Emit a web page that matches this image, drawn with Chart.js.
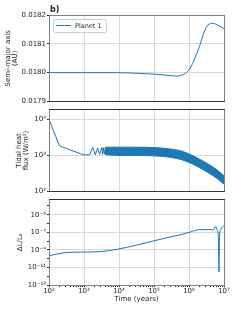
<!DOCTYPE html>
<html>
<head>
<meta charset="utf-8">
<script src="https://cdn.jsdelivr.net/npm/chart.js@4.4.1/dist/chart.umd.min.js"></script>
<style>
  html, body { margin: 0; padding: 0; background: #fff; }
  #wrap { position: relative; width: 249px; height: 320px; overflow: hidden; }
  canvas { position: absolute; left: 0; }
</style>
</head>
<body>
<div id="wrap">
  <canvas id="axisChart" width="249" height="106" style="top:0px"></canvas>
  <canvas id="heatChart" width="249" height="91" style="top:105px"></canvas>
  <canvas id="lumChart" width="249" height="125" style="top:195px"></canvas>
</div>
<script>
// Values
const timeTicks = [1e2, 1e3, 1e4, 1e5, 1e6, 1e7];

// top panel: semi-major axis (AU)
const axisTime = [1e2, 1e3, 8.7e3, 3.2e4, 9.3e4, 2.0e5, 4.6e5, 6.8e5, 8.9e5, 1.07e6, 1.48e6, 2.04e6, 2.69e6, 3.47e6, 4.9e6, 6.76e6, 1e7];
const axisAU = [0.018, 0.018, 0.018, 0.017998, 0.017995, 0.017992, 0.017988, 0.017993, 0.018003, 0.018015, 0.01805, 0.018095, 0.01814, 0.018165, 0.018171, 0.018164, 0.018153];
const axisTicks = [0.0179, 0.0180, 0.0181, 0.0182];

// middle panel: tidal heat flux (W/m2)
const heatTime = [1e2, 2.0e2, 9.5e2, 1.45e3, 1.78e3, 2.1e3, 2.45e3, 2.8e3, 3.24e3, 3.4e3, 3.55e3, 3.8e3, 4.07e3, 4.2e3];
const heatFlux = [1.0e4, 1.85e3, 1.05e3, 1.05e3, 1.7e3, 1.05e3, 1.62e3, 1.07e3, 1.66e3, 1.08e3, 1.66e3, 1.1e3, 1.7e3, 1.05e3];
const bandTime = [4.2e3, 1e4, 3.16e4, 1e5, 2.5e5, 6.3e5, 1.26e6, 2.0e6, 4.0e6, 6.3e6, 1e7];
const bandTop = [1.7e3, 1.7e3, 1.7e3, 1.66e3, 1.55e3, 1.32e3, 1.0e3, 7.9e2, 5.4e2, 4.0e2, 2.7e2];
const bandBottom = [1.05e3, 1.0e3, 1.0e3, 9.8e2, 9.1e2, 7.6e2, 5.8e2, 4.6e2, 3.1e2, 2.3e2, 1.6e2];
const heatTicks = [1e2, 1e3, 1e4];

// bottom panel: delta L / L0
const lumTime = [1e2, 3.2e2, 1e3, 2.9e3, 9.3e3, 3.2e4, 9.3e4, 3.2e5, 5.5e5, 1.07e6, 2.0e6, 4.0e6, 5.0e6, 5.75e6, 6.4e6, 6.85e6, 7.2e6, 7.45e6, 7.9e6, 8.5e6, 1e7];
const lumDelta = [2.2e-10, 5.0e-10, 5.6e-10, 6.3e-10, 1.2e-9, 3.5e-9, 1.0e-8, 3.2e-8, 5.0e-8, 1.05e-7, 2.0e-7, 2.0e-7, 1.9e-7, 4.7e-7, 1.7e-7, 6e-8, 3e-12, 4e-8, 1.8e-7, 3.2e-7, 5.6e-7];
const lumTicks = [1e-13, 1e-11, 1e-9, 1e-7, 1e-5];

const BLUE = '#1f77b4';
const INK = '#262626';
const GRID = '#d9d9d9';
const FONT = { family: 'DejaVu Sans', size: 7, lineHeight: 1 };

const sup = { '0': '⁰', '1': '¹', '2': '²', '3': '³', '4': '⁴', '5': '⁵', '6': '⁶', '7': '⁷', '8': '⁸', '9': '⁹', '-': '⁻' };
function pow10(v) {
  const e = String(Math.round(Math.log10(v)));
  return '10' + e.split('').map(c => sup[c]).join('');
}
function pts(xs, ys) { return xs.map((x, i) => ({ x: x, y: ys[i] })); }

// major ticks plus unlabeled minor ticks (tick marks only)
function tickList(majors, minors) {
  const out = majors.map(v => ({ value: v, major: true }));
  (minors || []).forEach(v => out.push({ value: v, major: false }));
  return out.sort((a, b) => a.value - b.value);
}
function decadeMinors(lo, hi) {
  const out = [];
  for (let e = lo; e < hi; e++) for (let m = 2; m < 10; m++) out.push(m * Math.pow(10, e));
  return out;
}

function xScale(bottom) {
  return {
    type: 'logarithmic', min: 1e2, max: 1e7,
    border: { display: false },
    grid: {
      color: c => (c.tick && c.tick.major) ? GRID : 'rgba(0,0,0,0)',
      drawTicks: bottom, tickLength: 2, tickColor: INK
    },
    ticks: {
      display: bottom, autoSkip: false, maxRotation: 0, padding: 1, font: FONT, color: INK,
      callback: (v, i, t) => t[i].major ? pow10(v) : ''
    },
    title: { display: bottom, text: 'Time (years)', font: FONT, color: INK, padding: { top: 0, bottom: 17 } },
    afterBuildTicks: s => { s.ticks = tickList(timeTicks, bottom ? decadeMinors(2, 7) : []); },
    afterFit: s => { s.height = bottom ? 35 : 0; }
  };
}

function yScale(cfg) {
  return {
    type: cfg.type, min: cfg.min, max: cfg.max,
    border: { display: false },
    grid: {
      color: c => (c.tick && c.tick.major) ? GRID : 'rgba(0,0,0,0)',
      tickLength: 2, tickColor: INK
    },
    ticks: { autoSkip: false, padding: 1, font: FONT, color: INK, callback: cfg.label },
    title: { display: true, text: cfg.title, font: FONT, color: INK, padding: { top: cfg.pad, bottom: 0 } },
    afterBuildTicks: s => { s.ticks = tickList(cfg.ticks, cfg.minors); },
    afterFit: s => { s.width = 49; }
  };
}

// frame round each panel; the panel joins are darker
const framePlugin = {
  id: 'frame',
  afterDatasetsDraw(chart, args, opts) {
    const { ctx, chartArea: a } = chart;
    const al = v => Math.round(v - 0.5) + 0.5;
    const L = al(a.left), R = al(a.right), T = al(a.top), B = al(a.bottom);
    const seg = (x1, y1, x2, y2, col) => {
      ctx.strokeStyle = col; ctx.beginPath(); ctx.moveTo(x1, y1); ctx.lineTo(x2, y2); ctx.stroke();
    };
    ctx.save();
    ctx.lineWidth = 1;
    seg(L, T, L, B, '#808080');
    seg(R, T, R, B, '#808080');
    seg(L - 0.5, T, R + 0.5, T, opts.top || '#808080');
    seg(L - 0.5, B, R + 0.5, B, opts.bottom || '#808080');
    ctx.restore();
  }
};

// legend box and panel letter of the top panel
const legendPlugin = {
  id: 'boxLegend',
  afterDraw(chart) {
    const ctx = chart.ctx;
    ctx.save();
    ctx.fillStyle = 'rgba(255,255,255,0.85)';
    ctx.strokeStyle = '#cccccc';
    ctx.lineWidth = 1;
    ctx.beginPath();
    ctx.roundRect(53.5, 19.5, 53, 13, 2);
    ctx.fill();
    ctx.stroke();
    ctx.strokeStyle = BLUE;
    ctx.beginPath();
    ctx.moveTo(56, 25.5);
    ctx.lineTo(71, 25.5);
    ctx.stroke();
    ctx.fillStyle = INK;
    ctx.font = '6.5px "DejaVu Sans"';
    ctx.textBaseline = 'middle';
    ctx.fillText('Planet 1', 75, 26);
    ctx.font = 'bold 8px "DejaVu Sans"';
    ctx.textBaseline = 'alphabetic';
    ctx.fillText('b)', 50, 12);
    ctx.restore();
  }
};

function baseOptions(padding, frame) {
  return {
    responsive: false, animation: false, devicePixelRatio: 1,
    layout: { padding: padding },
    elements: { point: { radius: 0 }, line: { borderWidth: 1 } },
    plugins: { legend: { display: false }, tooltip: { enabled: false }, frame: frame }
  };
}

// top panel
const axisOpts = baseOptions({ top: 15, bottom: 1, left: 0, right: 25 }, { bottom: '#333333' });
axisOpts.scales = {
  x: xScale(false),
  y: yScale({ type: 'linear', min: 0.0179, max: 0.0182, ticks: axisTicks, pad: 5,
    title: ['Semi-major axis', '(AU)'], label: v => v.toFixed(4) })
};
new Chart(document.getElementById('axisChart'), {
  type: 'line',
  data: { datasets: [{ label: 'Planet 1', data: pts(axisTime, axisAU), borderColor: BLUE, cubicInterpolationMode: 'monotone' }] },
  options: axisOpts,
  plugins: [framePlugin, legendPlugin]
});

// middle panel
const heatOpts = baseOptions({ top: 0, bottom: 1, left: 0, right: 25 }, { top: '#333333', bottom: '#333333' });
heatOpts.scales = {
  x: xScale(false),
  y: yScale({ type: 'logarithmic', min: 1e2, max: 1.9e4, ticks: heatTicks, pad: 16,
    title: ['Tidal heat', 'flux (W/m²)'], label: (v, i, t) => t[i].major ? pow10(v) : '' })
};
new Chart(document.getElementById('heatChart'), {
  type: 'line',
  data: {
    datasets: [
      { data: pts(heatTime, heatFlux), borderColor: BLUE, tension: 0 },
      { data: pts(bandTime, bandTop), borderColor: BLUE, cubicInterpolationMode: 'monotone' },
      { data: pts(bandTime, bandBottom), borderColor: BLUE, backgroundColor: BLUE, fill: '-1', cubicInterpolationMode: 'monotone' }
    ]
  },
  options: heatOpts,
  plugins: [framePlugin]
});

// bottom panel
const lumOpts = baseOptions({ top: 0, bottom: 0, left: 0, right: 25 }, { top: '#333333' });
lumOpts.scales = {
  x: xScale(true),
  y: yScale({ type: 'logarithmic', min: 1e-13, max: 5.4e-4, ticks: lumTicks,
    minors: [1e-12, 1e-10, 1e-8, 1e-6, 1e-4], pad: 17,
    title: 'ΔL/L₀', label: (v, i, t) => t[i].major ? pow10(v) : '' })
};
new Chart(document.getElementById('lumChart'), {
  type: 'line',
  data: { datasets: [{ data: pts(lumTime, lumDelta), borderColor: BLUE, cubicInterpolationMode: 'monotone' }] },
  options: lumOpts,
  plugins: [framePlugin]
});
</script>
</body>
</html>
